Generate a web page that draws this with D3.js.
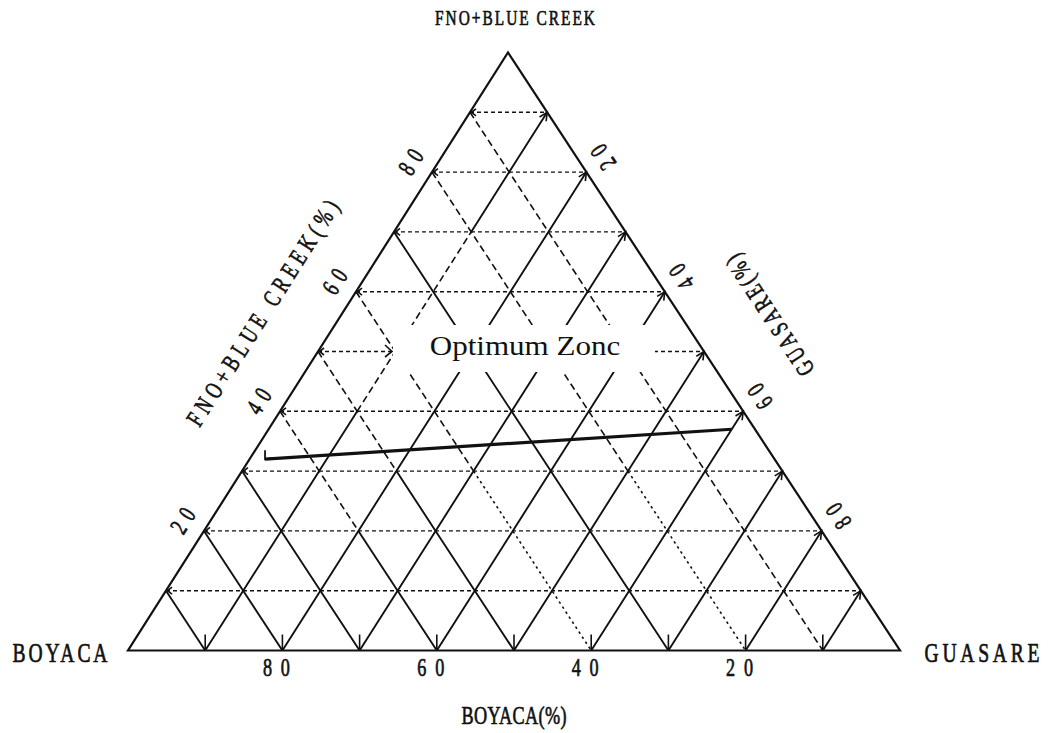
<!DOCTYPE html>
<html>
<head>
<meta charset="utf-8">
<script src="https://cdn.jsdelivr.net/npm/d3@7/dist/d3.min.js"></script>
<style>
  html, body { margin: 0; padding: 0; background: #fff; }
  svg { display: block; }
</style>
</head>
<body>
<svg id="chart" width="1048" height="733"></svg>
<script>
// Ternary coal-blend diagram: Boyaca / Guasare / FNO+Blue Creek (percent)
const gridSteps = [10, 20, 30, 40, 50, 60, 70, 80, 90];
const boyacaTicks = [80, 60, 40, 20];
const fnoTicks = [20, 40, 60, 80];
const guasareTicks = [20, 40, 60, 80];
const vertexNames = ["BOYACA", "GUASARE", "FNO+BLUE CREEK"];
const axisTitles = ["BOYACA(%)", "FNO+BLUE CREEK(%)", "GUASARE(%)"];
// Boundary of the optimum zone: two end points (Boyaca, Guasare, FNO+Blue Creek)
const boundaryBoyaca = [66, 3];
const boundaryGuasare = [2, 60];
const boundaryFno = [32, 37];
const zoneLabel = "Optimum Zonc";

const svg = d3.select("#chart");
const ink = "#111";

// Cartesian placement of a composition: base runs Boyaca -> Guasare, FNO+Blue Creek upwards
const apexShare = 0.4922;
const x = d3.scaleLinear().domain([0, 100]).range([128, 900]);
const y = d3.scaleLinear().domain([0, 100]).range([650.5, 52.5]);
const pt = (b, g, f) => [x(g + f * apexShare), y(f)];

const line = d3.line();
const gGrid = svg.append("g");

function drawPath(points, dash, width) {
  gGrid.append("path")
    .attr("d", line(points))
    .attr("fill", "none")
    .attr("stroke", ink)
    .attr("stroke-width", width)
    .attr("stroke-linecap", "butt")
    .attr("stroke-dasharray", dash);
}

// Draw a grid line between two compositions, split per 10 % step, styled per piece
function drawStyled(a, b, styleAt) {
  const n = Math.round(Math.max(Math.abs(a[0] - b[0]), Math.abs(a[1] - b[1]), Math.abs(a[2] - b[2])) / 10);
  const lerp = t => [0, 1, 2].map(i => a[i] + (b[i] - a[i]) * t);
  let run = null;
  for (let k = 0; k < n; k++) {
    const c0 = lerp(k / n), c1 = lerp((k + 1) / n), cm = lerp((k + 0.5) / n);
    const st = styleAt(cm);
    const key = st.dash + "|" + st.width;
    if (run && run.key === key) {
      run.pts.push(pt(...c1));
    } else {
      if (run) drawPath(run.pts, run.st.dash, run.st.width);
      run = { key, st, pts: [pt(...c0), pt(...c1)] };
    }
  }
  if (run) drawPath(run.pts, run.st.dash, run.st.width);
}

const solid = { dash: null, width: 1.9 };
const longDash = { dash: "7,4", width: 1.6 };
const dotted = { dash: "2.5,3.5", width: 1.6 };

// Constant FNO+Blue Creek: horizontal dashed lines
gridSteps.forEach(f => {
  drawStyled([100 - f, 0, f], [0, 100 - f, f], () => ({ dash: "4,3", width: 1.4 }));
});

// Constant Guasare: lines parallel to the left side
gridSteps.forEach(g => {
  drawStyled([100 - g, g, 0], [0, g, 100 - g], c => {
    if (g === 10 && c[2] > 35 && c[2] < 70) return longDash;
    return solid;
  });
});

// Constant Boyaca: lines parallel to the right side
gridSteps.forEach(b => {
  drawStyled([b, 0, 100 - b], [b, 100 - b, 0], c => {
    const f = c[2];
    if (b >= 70 || b === 30) return solid;
    if (b === 60) return f < 20 ? solid : longDash;
    if (b === 50) return f < 30 ? solid : longDash;
    if (b === 10) return longDash;
    return f < 30 ? dotted : longDash;
  });
});

// Tick marks on the three sides
const gTicks = svg.append("g").attr("stroke", ink).attr("fill", "none").attr("stroke-width", 1.6);
gridSteps.forEach(v => {
  const [bx, by] = pt(100 - v, v, 0);
  gTicks.append("line").attr("x1", bx).attr("x2", bx).attr("y1", by).attr("y2", by - 16);
  const [lx, ly] = pt(100 - v, 0, v);
  gTicks.append("path").attr("d", line([[lx + 6, ly - 3.5], [lx + 1.5, ly], [lx + 6, ly + 3.5]]));
  const [rx, ry] = pt(0, v, 100 - v);
  const [sx, sy] = pt(1, v, 99 - v);
  const ux = rx - sx, uy = ry - sy, len = Math.hypot(ux, uy);
  const dx = ux / len, dy = uy / len;
  const barb = (ang) => {
    const c = Math.cos(ang), s = Math.sin(ang);
    return [rx - 9 * (dx * c - dy * s), ry - 9 * (dx * s + dy * c)];
  };
  gTicks.append("path").attr("d", line([barb(0.45), [rx, ry], barb(-0.45)]));
});

// Triangle outline
svg.append("path")
  .attr("d", line([pt(100, 0, 0), pt(0, 100, 0), pt(0, 0, 100)]) + "Z")
  .attr("fill", "none").attr("stroke", ink).attr("stroke-width", 2.2)
  .attr("stroke-linejoin", "miter");

// Boundary line of the optimum zone
const boundary = boundaryBoyaca.map((b, i) => pt(b, boundaryGuasare[i], boundaryFno[i]));
svg.append("path").attr("d", line(boundary))
  .attr("fill", "none").attr("stroke", ink).attr("stroke-width", 3.2);
svg.append("path")
  .attr("d", line([[boundary[0][0], boundary[0][1] - 9], [boundary[0][0], boundary[0][1]], [boundary[0][0] + 8, boundary[0][1] - 1]]))
  .attr("fill", "none").attr("stroke", ink).attr("stroke-width", 1.8);

// Zone label on a white panel
const labelX = 525, labelY = 355;
svg.append("rect").attr("x", 393).attr("y", 325).attr("width", 262).attr("height", 47).attr("fill", "#fff");
svg.append("path").attr("d", line([[385, 345], [392, y(50)], [385, 357]]))
  .attr("fill", "none").attr("stroke", ink).attr("stroke-width", 1.6);
svg.append("g").attr("transform", `translate(${labelX},${labelY}) scale(1.15,1)`)
  .append("text").attr("text-anchor", "middle")
  .attr("font-family", "'Liberation Serif', 'Times New Roman', serif")
  .attr("font-size", 27).attr("fill", ink).text(zoneLabel);

// Plotter-style lettering: narrow glyphs on an even pitch
const plotFont = "'Liberation Serif', 'Times New Roman', serif";
function plotText(str, cx, cy, angle, size, width) {
  const squeeze = 0.7;
  const g = svg.append("g").attr("transform", `translate(${cx},${cy}) rotate(${angle}) scale(${squeeze},1)`);
  g.append("text")
    .attr("x", 0).attr("y", 0)
    .attr("text-anchor", "middle").attr("dominant-baseline", "central")
    .attr("font-family", plotFont).attr("font-size", size)
    .attr("fill", ink).attr("stroke", ink).attr("stroke-width", 0.7)
    .attr("textLength", width / squeeze).attr("lengthAdjust", "spacing")
    .text(str);
}

const [bl, br, ap] = [pt(100, 0, 0), pt(0, 100, 0), pt(0, 0, 100)];
const leftAngle = Math.atan2(ap[1] - bl[1], ap[0] - bl[0]) * 180 / Math.PI;
const rightAngle = Math.atan2(br[1] - ap[1], br[0] - ap[0]) * 180 / Math.PI + 180;

plotText(vertexNames[0], bl[0] - 68, bl[1] + 1.5, 0, 28, 95);
plotText(vertexNames[1], br[0] + 82, br[1] + 1.5, 0, 28, 115);
plotText(vertexNames[2], ap[0] + 7, ap[1] - 35, 0, 22, 160);

boyacaTicks.forEach(v => {
  const [tx, ty] = pt(v, 100 - v, 0);
  plotText(String(v), tx - 6, ty + 16.5, 0, 26, 27);
});
fnoTicks.forEach(v => {
  const [tx, ty] = pt(100 - v, 0, v);
  plotText(String(v), tx - 21, ty - 10, leftAngle, 25, 25);
});
guasareTicks.forEach(v => {
  const [tx, ty] = pt(0, v, 100 - v);
  plotText(String(v), tx + 17, ty - 15, rightAngle, 25, 25);
});

plotText(axisTitles[0], 514, 715, 0, 26, 105);
plotText(axisTitles[1], 263, 313, leftAngle, 25, 262);
plotText(axisTitles[2], 770, 315, rightAngle, 25, 140);
</script>
</body>
</html>
